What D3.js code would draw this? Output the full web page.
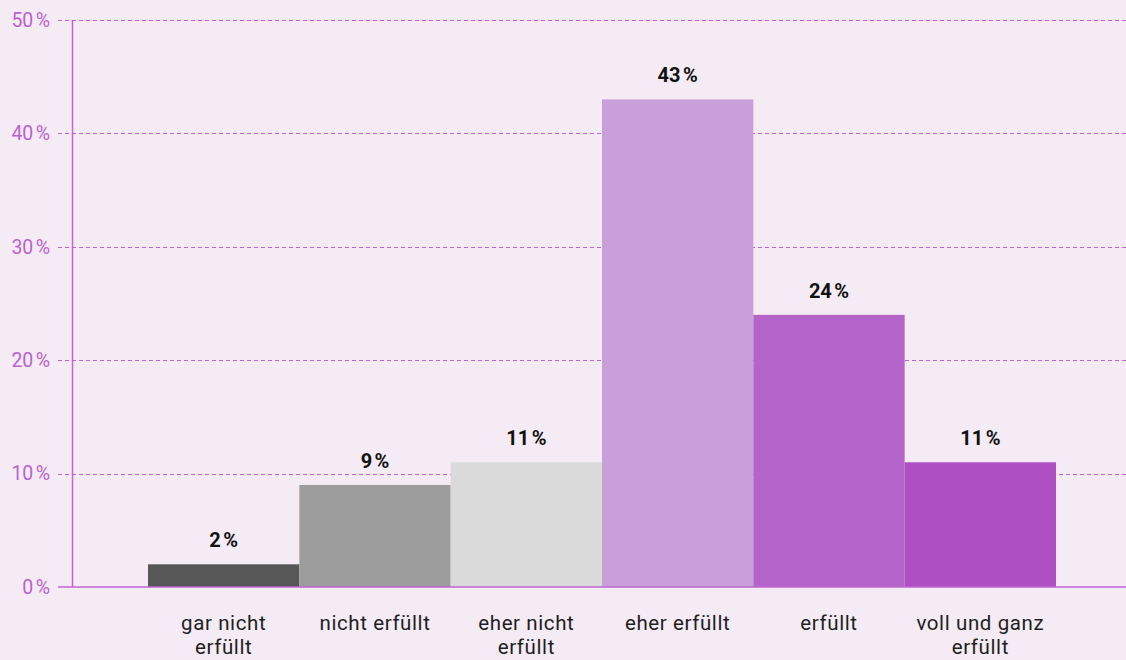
<!DOCTYPE html>
<html><head><meta charset="utf-8">
<script src="https://cdn.jsdelivr.net/npm/d3@7"></script>
<style>
html,body{margin:0;padding:0;background:#f5ebf5;}
svg{display:block;font-family:Roboto,"Noto Sans",sans-serif;}
</style></head><body>
<svg id="c" width="1126" height="660"></svg>
<script>
const categories = ["gar nicht erfüllt","nicht erfüllt","eher nicht erfüllt","eher erfüllt","erfüllt","voll und ganz erfüllt"];
const values = [2, 9, 11, 43, 24, 11];
const colors = ["#575757","#9c9d9c","#dadada","#c89fd8","#b464c8","#ae50c3"];
const yTicks = [0, 10, 20, 30, 40, 50];

(function(){
const svg = d3.select("#c");
const W = 1126, H = 660;
const axisX = 72.5, gridX0 = 58, plotTop = 20, plotBottom = 587;
const accent = "#c064d2";

svg.append("rect").attr("width", W).attr("height", H).attr("fill", "#f5ebf5");

const y = d3.scaleLinear().domain([0, 50]).range([plotBottom, plotTop]);
const x = d3.scaleBand().domain(categories).range([148, 1056]).padding(0);

// gridlines
svg.append("g").selectAll("line").data(yTicks.filter(t => t > 0)).join("line")
  .attr("x1", gridX0).attr("x2", W)
  .attr("y1", d => Math.round(y(d)) + 0.5).attr("y2", d => Math.round(y(d)) + 0.5)
  .attr("stroke", accent).attr("stroke-width", 1).attr("stroke-dasharray", "4,3");

// tick labels
svg.append("g").selectAll("text").data(yTicks).join("text")
  .attr("x", 50).attr("y", d => y(d)).attr("dy", "0.35em")
  .attr("text-anchor", "end").attr("fill", "#bb62d0")
  .attr("font-size", 19.5).attr("letter-spacing", 0.8)
  .text(d => d + "\u202F%");

// bars
svg.append("g").selectAll("rect").data(values).join("rect")
  .attr("x", (d, i) => x(categories[i]))
  .attr("width", x.bandwidth())
  .attr("y", d => y(d))
  .attr("height", d => y(0) - y(d))
  .attr("fill", (d, i) => colors[i]);

// axis lines
svg.append("line").attr("x1", axisX).attr("x2", axisX).attr("y1", plotTop).attr("y2", plotBottom)
  .attr("stroke", accent).attr("stroke-width", 1.5);
svg.append("line").attr("x1", gridX0).attr("x2", W).attr("y1", plotBottom).attr("y2", plotBottom)
  .attr("stroke", accent).attr("stroke-width", 1.5);

// value labels
svg.append("g").selectAll("text").data(values).join("text")
  .attr("x", (d, i) => x(categories[i]) + x.bandwidth() / 2)
  .attr("y", d => y(d) - 17)
  .attr("text-anchor", "middle").attr("font-weight", "bold")
  .attr("font-size", 20).attr("letter-spacing", 1.2).attr("fill", "#111")
  .text(d => d + "\u202F%");

// category labels with wrapping
const cat = svg.append("g").selectAll("text").data(categories).join("text")
  .attr("x", d => x(d) + x.bandwidth() / 2)
  .attr("y", 630)
  .attr("text-anchor", "middle").attr("font-size", 20.5)
  .attr("letter-spacing", 0.6).attr("fill", "#1e1e1e");
cat.each(function(d) {
  const t = d3.select(this);
  const words = d.split(" ");
  let line = [], lines = [];
  const probe = t.append("tspan");
  words.forEach(w => {
    const test = line.concat([w]).join(" ");
    probe.text(test);
    if (probe.node().getComputedTextLength() > 140 && line.length) {
      lines.push(line.join(" ")); line = [w];
    } else line.push(w);
  });
  lines.push(line.join(" "));
  probe.remove();
  lines.forEach((l, i) => {
    t.append("tspan").attr("x", t.attr("x")).attr("dy", i === 0 ? 0 : 24).text(l);
  });
});
})();
</script>
</body></html>
